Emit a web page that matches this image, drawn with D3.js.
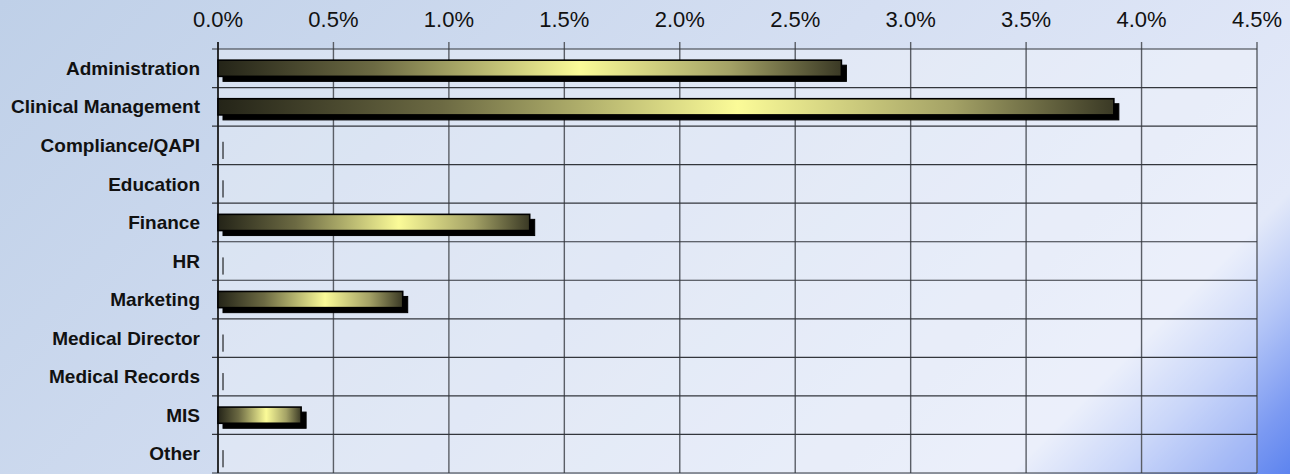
<!DOCTYPE html>
<meta charset="utf-8">
<style>
  body { margin: 0; background: #c8d7ec; }
  svg { display: block; font-family: "Liberation Sans", Arial, sans-serif; }
  .grid-v line { stroke: #5a5e66; stroke-width: 1.4px; }
  .grid-h line { stroke: #33363c; stroke-width: 1.2px; }
  .tick-lbl { font-size: 22px; fill: #111; }
  .cat-lbl { font-size: 19px; font-weight: bold; fill: #111; }
</style>
<body>
<svg width="1290" height="474"></svg>
<script src="https://d3js.org/d3.v7.min.js"></script>
<script>

// data
var categories = ["Administration", "Clinical Management", "Compliance/QAPI", "Education",
                  "Finance", "HR", "Marketing", "Medical Director", "Medical Records", "MIS", "Other"];
var values = [2.70, 3.88, 0, 0, 1.35, 0, 0.80, 0, 0, 0.36, 0];   // percent
var tickValues = [0, 0.5, 1, 1.5, 2, 2.5, 3, 3.5, 4, 4.5];

var svg = d3.select("svg"),
    width = +svg.attr("width"),
    height = +svg.attr("height");

var plotL = 218, plotR = 1257, plotT = 49, plotB = 473;

var x = d3.scaleLinear().domain([0, 4.5]).range([plotL, plotR]);
var y = d3.scaleBand().domain(categories).range([plotT, plotB]).padding(0);
var bw = y.bandwidth(), barH = bw * 0.42;

var defs = svg.append("defs");

// page background: light blue, deep blue in the lower right corner
var bg = defs.append("linearGradient")
    .attr("id", "bg")
    .attr("gradientUnits", "userSpaceOnUse")
    .attr("x1", 0).attr("y1", 0).attr("x2", 882).attr("y2", 882);
[[0, "#bfd0e8"], [0.5, "#d5dff2"], [0.84, "#e3e9f9"], [0.9, "#b3c5f7"], [0.96, "#7c9af2"], [1, "#5d84ef"]]
  .forEach(function(s) { bg.append("stop").attr("offset", s[0]).attr("stop-color", s[1]); });

// bar fill: dark olive -> pale yellow -> dark olive
var bar = defs.append("linearGradient").attr("id", "bar");
[[0, "#242418"], [0.25, "#6c6a43"], [0.58, "#fbfb98"], [0.82, "#a4a266"], [1, "#3a3925"]]
  .forEach(function(s) { bar.append("stop").attr("offset", s[0]).attr("stop-color", s[1]); });

svg.append("rect").attr("width", width).attr("height", height).attr("fill", "url(#bg)");

// plot area, a little lighter than the page
svg.append("rect")
    .attr("x", plotL).attr("y", plotT)
    .attr("width", plotR - plotL).attr("height", plotB - plotT)
    .attr("fill", "#ffffff").attr("fill-opacity", 0.3);

// vertical grid + top ticks
svg.append("g").attr("class", "grid-v")
  .selectAll("line").data(tickValues).enter().append("line")
    .attr("x1", function(d) { return x(d); }).attr("x2", function(d) { return x(d); })
    .attr("y1", plotT - 7).attr("y2", plotB);

// horizontal grid + left ticks
var bounds = categories.map(function(c) { return y(c); }).concat([plotB]);
svg.append("g").attr("class", "grid-h")
  .selectAll("line").data(bounds).enter().append("line")
    .attr("x1", plotL - 6).attr("x2", plotR)
    .attr("y1", function(d) { return d; }).attr("y2", function(d) { return d; });

svg.append("line")
    .attr("x1", plotL).attr("x2", plotL).attr("y1", plotT - 7).attr("y2", plotB)
    .attr("stroke", "#111").attr("stroke-width", 1.5);

// top axis labels
svg.append("g").selectAll("text").data(tickValues).enter().append("text")
    .attr("class", "tick-lbl")
    .attr("x", function(d) { return x(d); })
    .attr("y", 27)
    .attr("text-anchor", "middle")
    .text(function(d) { return d3.format(".1f")(d) + "%"; });

// category labels
svg.append("g").selectAll("text").data(categories).enter().append("text")
    .attr("class", "cat-lbl")
    .attr("x", 200)
    .attr("y", function(d) { return y(d) + bw / 2; })
    .attr("dy", "0.35em")
    .attr("text-anchor", "end")
    .text(function(d) { return d; });

var rows = categories.map(function(c, i) { return { cat: c, v: values[i] }; });

// shadows (zero values still leave a thin stroke, as in the original)
svg.append("g").selectAll("rect").data(rows).enter().append("rect")
    .attr("x", x(0) + 5)
    .attr("y", function(d) { return y(d.cat) + (bw - barH) / 2 + 5; })
    .attr("width", function(d) { return Math.max(x(d.v) - x(0), 0.01); })
    .attr("height", barH)
    .attr("fill", "#000").attr("stroke", "#000").attr("stroke-width", 1);

// bars
svg.append("g").selectAll("rect").data(rows.filter(function(d) { return d.v > 0; })).enter().append("rect")
    .attr("x", x(0))
    .attr("y", function(d) { return y(d.cat) + (bw - barH) / 2; })
    .attr("width", function(d) { return x(d.v) - x(0); })
    .attr("height", barH)
    .attr("fill", "url(#bar)").attr("stroke", "#000").attr("stroke-width", 1.6);

</script>
</body>
